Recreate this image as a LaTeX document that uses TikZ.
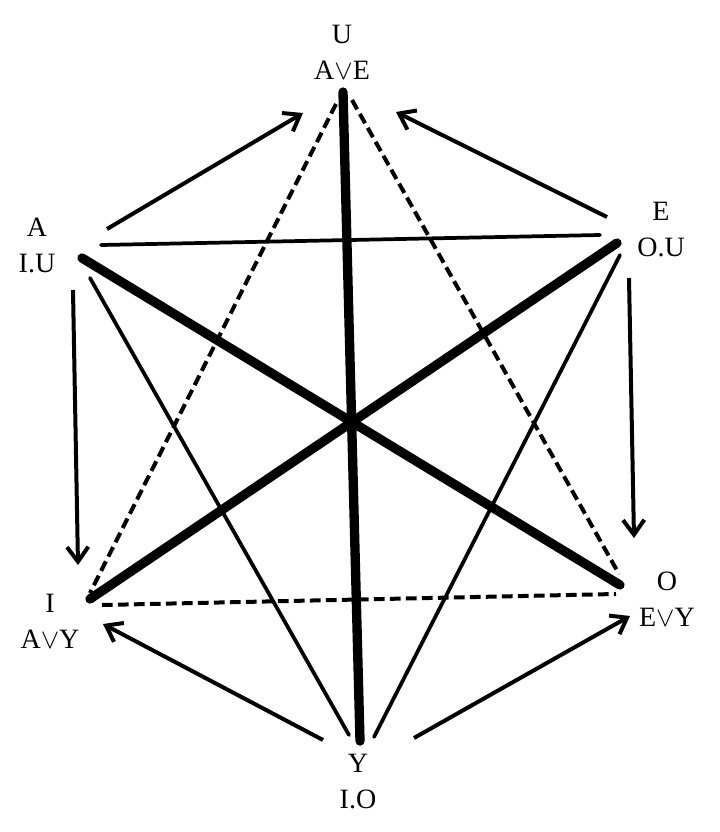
\documentclass[tikz,border=0pt]{standalone}
\usepackage{fontspec}
\setmainfont{Liberation Serif}
\usetikzlibrary{arrows.meta}
\begin{document}
\begin{tikzpicture}[x=0.75pt,y=-0.75pt,
  lbl/.style={align=center,inner sep=0pt,font=\fontsize{21}{27}\selectfont},
  thick line/.style={line width=7pt,line cap=round},
  thin line/.style={line width=2.8pt,line cap=round},
  dash line/.style={line width=3pt,dash pattern=on 8pt off 4pt},
  arr/.style={line width=3pt,-{Straight Barb[length=11pt,width=16pt,line width=3pt]}}]
\useasboundingbox (0,0) rectangle (719,832);
% labels
\node[lbl] (U) at (342,52) {U\\A$\vee$E};
\node[lbl] (A) at (37,245) {A\\I.U};
\node[lbl] (E) at (661,230) {E\\O.U};
\node[lbl] (I) at (50,621) {I\\A$\vee$Y};
\node[lbl] (O) at (667,599) {O\\E$\vee$Y};
\node[lbl] (Y) at (358,782) {Y\\I.O};
% end points
\coordinate (Ut) at (343,92);  \coordinate (Yt) at (360,741);
\coordinate (At) at (82,258);  \coordinate (Ot) at (620,585);
\coordinate (Et) at (617,243); \coordinate (It) at (90,599);
\coordinate (Ae) at (101,245); \coordinate (Ea) at (600,235);
\coordinate (Ay) at (90,278);  \coordinate (Ya) at (349,735);
\coordinate (Ey) at (620,255); \coordinate (Ye) at (374,737);
\coordinate (Ui) at (336,104); \coordinate (Iu) at (90,593);
\coordinate (Uo) at (352,100); \coordinate (Ou) at (619,574);
\coordinate (Io) at (102,605); \coordinate (Oi) at (616,594);
\coordinate (Aa) at (107,229); \coordinate (Ua) at (303,113);
\coordinate (Eu) at (607,217); \coordinate (Ue) at (396,112);
\coordinate (Ai) at (73,290);  \coordinate (Ia) at (78,565);
\coordinate (Eo) at (629,278); \coordinate (Oe) at (634,538);
\coordinate (Yi) at (323,740); \coordinate (Iy) at (103,624);
\coordinate (Yo) at (414,738); \coordinate (Oy) at (630,616);
% thick
\draw[thick line] (Ut) -- (Yt);
\draw[thick line] (At) -- (Ot);
\draw[thick line] (Et) -- (It);
% thin
\draw[thin line] (Ae) -- (Ea);
\draw[thin line] (Ay) -- (Ya);
\draw[thin line] (Ey) -- (Ye);
% dashed
\draw[dash line] (Ui) -- (Iu);
\draw[dash line] (Uo) -- (Ou);
\draw[dash line] (Io) -- (Oi);
% arrows
\draw[arr] (Aa) -- (Ua);
\draw[arr] (Eu) -- (Ue);
\draw[arr] (Ai) -- (Ia);
\draw[arr] (Eo) -- (Oe);
\draw[arr] (Yi) -- (Iy);
\draw[arr] (Yo) -- (Oy);
\end{tikzpicture}
\end{document}
